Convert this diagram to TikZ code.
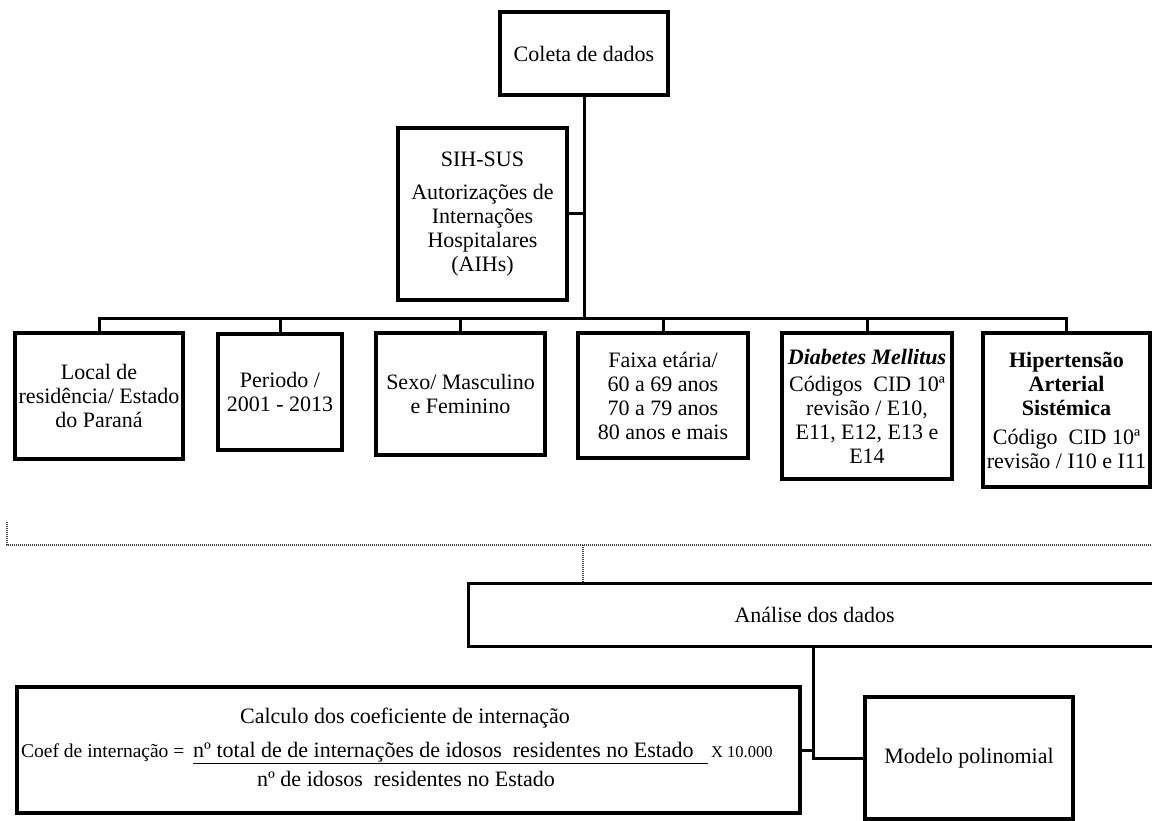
\documentclass[tikz,border=0pt]{standalone}
\usepackage{fontspec}
\setmainfont{Liberation Serif}
\begin{document}
\begin{tikzpicture}[x=1pt,y=-1pt,
 box/.style={draw, line width=3.2pt, inner sep=0pt, align=center, font=\fontsize{22}{24}\selectfont},
 conn/.style={line width=3pt},
 dots/.style={line width=1.4pt, dash pattern=on 1pt off 1pt, black!75},
 big/.style={font=\fontsize{22}{24}\selectfont}]
\useasboundingbox (0,0) rectangle (1152,821);
\clip (0,0) rectangle (1152,821);

% top
\node[box, minimum width=168, minimum height=83] (coleta) at (584,53.5) {Coleta de dados};
\node[box, minimum width=169, minimum height=172] (sih) at (482.5,214) {SIH-SUS\\[9pt]Autorizações de\\Internações\\Hospitalares\\(AIHs)};
\coordinate (bus) at (584,318);

% row
\node[box, minimum width=168, minimum height=126] (local) at (99,396) {Local de\\residência/ Estado\\do Paraná};
\node[box, minimum width=124, minimum height=116] (periodo) at (280,392) {Periodo /\\2001 - 2013};
\node[box, minimum width=169, minimum height=122] (sexo) at (460.5,394) {Sexo/ Masculino\\e Feminino};
\node[box, minimum width=170, minimum height=125] (faixa) at (663,395.5) {Faixa etária/\\60 a 69 anos\\70 a 79 anos\\80 anos e mais};
\node[box, minimum width=170, minimum height=146] (diab) at (867,406) {\textbf{\textit{Diabetes Mellitus}}\\[3pt]Códigos\ \ CID 10ª\\revisão / E10,\\E11, E12, E13 e\\E14};
\node[box, minimum width=167, minimum height=154] (hiper) at (1066.5,410) {\textbf{Hipertensão}\\\textbf{Arterial}\\\textbf{Sistémica}\\[5pt]Código\ \ CID 10ª\\revisão / I10 e I11};

\draw[conn] (coleta.south) -- (bus);
\draw[conn] (sih.east) -- (sih.east -| bus);
\draw[conn] (local.north) -- (local.north |- bus) -- (hiper.north |- bus) -- (hiper.north);
\draw[conn] (periodo.north |- bus) -- (periodo.north);
\draw[conn] (sexo.north |- bus) -- (sexo.north);
\draw[conn] (faixa.north |- bus) -- (faixa.north);
\draw[conn] (diab.north |- bus) -- (diab.north);

% bottom section
\node[box, minimum width=692, minimum height=63, anchor=north west] (analise) at (467,582) {Análise dos dados};

\coordinate (dL) at (7,522);
\coordinate (dC) at (7,545);
\coordinate (dR) at (1152,545);
\coordinate (dTick) at (583,545);
\draw[dots] (dL) -- (dC) -- (dR);
\draw[dots] (dTick) -- (dTick |- analise.north);

\node[box, minimum width=783, minimum height=126] (calc) at (408.5,750) {};
\node[big] (calcT1) at (405,718) {Calculo dos coeficiente de internação};
\node[font=\fontsize{19.5}{22}\selectfont, anchor=base west, inner sep=0pt] (coefL) at (21,757) {Coef de internação =};
\node[big, anchor=base west, inner sep=0pt] (numer) at (193,757) {\underline{\makebox[515pt][l]{nº total de de internações de idosos\ \ residentes no Estado}}};
\node[font=\fontsize{16.5}{18}\selectfont, anchor=base west, inner sep=0pt] (times) at (711,757) {X 10.000};
\node[big] (calcT3) at (406,779) {nº de idosos\ \ residentes no Estado};

\node[box, minimum width=208, minimum height=122] (modelo) at (969,758) {Modelo polinomial};

\coordinate (ajx) at (813,0);
\draw[conn] (analise.south -| ajx) -- (ajx |- modelo.west) -- (modelo.west);
\draw[conn] (calc.east) -- (calc.east -| ajx);
\end{tikzpicture}
\end{document}
